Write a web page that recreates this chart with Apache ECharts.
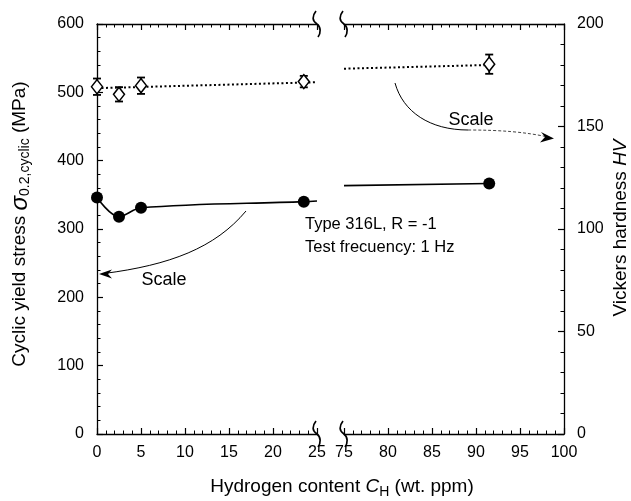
<!DOCTYPE html>
<html><head><meta charset="utf-8">
<script src="https://cdn.jsdelivr.net/npm/echarts@6/dist/echarts.min.js"></script>
<style>html,body{margin:0;padding:0;background:#fff}#c{width:631px;height:501px}</style>
</head><body><div id="c"></div>
<script>
const FONT = '"Liberation Sans", Arial, Helvetica, sans-serif';
// ---- data ----
const seg1Range = [0, 25];
const seg2Range = [75, 100];
const stressRange = [0, 600];
const hardRange = [0, 200];
// measured points
const hydrogen1 = [0, 2.5, 5, 23.5];
const stress1 = [346, 318, 331, 340];
const hardness1 = [169.4, 165.7, 169.9, 171.9];
const hardnessErr1 = [4, 3.5, 4, 2.8];
const hydrogen2 = [91.5];
const stress2 = [366.5];
const hardness2 = [180.4];
const hardnessErr2 = [4.7];
// trend curves drawn in the figure
const stressFitX1 = [0, 2.5, 5, 23.5, 25];
const stressFit1 = [346, 318, 331, 340, 341];
const stressFitX2 = [75, 91.5];
const stressFit2 = [363.5, 366.5];
const hardFitX1 = [0, 25];
const hardFit1 = [168.7, 171.6];
const hardFitX2 = [75, 91.5];
const hardFit2 = [178.2, 180.0];

const zip = (a, b) => a.map((v, i) => [v, b[i]]);
const errData = (x, y, e) => x.map((v, i) => [v, y[i] - e[i], y[i] + e[i]]);

const G1 = {left: 97, top: 24, width: 220, height: 410};
const G2 = {left: 344, top: 24, width: 220, height: 410};

const black = '#000';
function xAx(grid, range, pos, labels) {
  return {
    type: 'value', gridIndex: grid, position: pos, min: range[0], max: range[1], interval: 5,
    axisLine: {show: true, onZero: false, lineStyle: {color: black, width: 1.3}},
    axisTick: {show: true, inside: true, length: 6, lineStyle: {color: black, width: 1.2}},
    minorTick: {show: true, splitNumber: 5, length: 3.5, lineStyle: {color: black, width: 1}},
    axisLabel: {show: labels, color: black, fontSize: 16, fontFamily: FONT, margin: 11,
      showMinLabel: true, showMaxLabel: true},
    splitLine: {show: false}
  };
}
function yAx(grid, range, interval, pos, show) {
  return {
    type: 'value', gridIndex: grid, position: pos, min: range[0], max: range[1], interval: interval,
    show: show,
    axisLine: {show: true, onZero: false, lineStyle: {color: black, width: 1.3}},
    axisTick: {show: true, inside: true, length: 6, lineStyle: {color: black, width: 1.2}},
    minorTick: {show: true, splitNumber: 5, length: 3.5, lineStyle: {color: black, width: 1}},
    axisLabel: {show: true, color: black, fontSize: 16, fontFamily: FONT, margin: 13},
    splitLine: {show: false}
  };
}

function errRender(params, api) {
  const x = api.value(0), lo = api.value(1), hi = api.value(2);
  const p1 = api.coord([x, lo]), p2 = api.coord([x, hi]);
  const w = 4;
  const st = {stroke: black, lineWidth: 1.8};
  return {type: 'group', children: [
    {type: 'line', shape: {x1: p1[0], y1: p1[1], x2: p2[0], y2: p2[1]}, style: st},
    {type: 'line', shape: {x1: p1[0]-w, y1: p1[1], x2: p1[0]+w, y2: p1[1]}, style: st},
    {type: 'line', shape: {x1: p2[0]-w, y1: p2[1], x2: p2[0]+w, y2: p2[1]}, style: st}
  ]};
}

function breakMark(x, y) {
  const st = {fill: null, stroke: black, lineWidth: 1.7};
  return {type: 'group', x: x, y: y, z: 100, children: [
    {type: 'bezierCurve', shape: {x1: -1, y1: -13, cpx1: -5, cpy1: -8, cpx2: -5, cpy2: -3, x2: 0, y2: 0}, style: st},
    {type: 'bezierCurve', shape: {x1: 0, y1: 0, cpx1: 4, cpy1: 3, cpx2: 4, cpy2: 9, x2: 1, y2: 13}, style: st}
  ]};
}
function txt(x, y, text, size, rich, rot, align) {
  return {type: 'text', x: x, y: y, rotation: rot || 0, z: 100,
    style: {text: text, x: 0, y: 0, align: align || 'center', verticalAlign: 'middle',
      textAlign: align || 'center', textVerticalAlign: 'middle',
      font: size + 'px ' + FONT, fill: black, rich: rich}};
}
const rich = {
  n: {fontSize: 19, fontFamily: FONT, color: black, lineHeight: 24, verticalAlign: 'middle'},
  i: {fontSize: 19, fontFamily: FONT, fontStyle: 'italic', color: black, lineHeight: 24, verticalAlign: 'middle'},
  g: {fontSize: 24, fontFamily: FONT, fontStyle: 'italic', color: black, lineHeight: 24, verticalAlign: 'middle'},
  s: {fontSize: 14, fontFamily: FONT, color: black, lineHeight: 11, verticalAlign: 'bottom'}
};

const option = {
  animation: false,
  backgroundColor: '#fff',
  grid: [G1, G2],
  xAxis: [xAx(0, seg1Range, 'bottom', true), xAx(0, seg1Range, 'top', false),
          xAx(1, seg2Range, 'bottom', true), xAx(1, seg2Range, 'top', false)],
  yAxis: [yAx(0, stressRange, 100, 'left', true), yAx(0, hardRange, 50, 'right', false),
          yAx(1, stressRange, 100, 'left', false), yAx(1, hardRange, 50, 'right', true)],
  series: [
    {type: 'line', xAxisIndex: 0, yAxisIndex: 0, data: zip(stressFitX1, stressFit1), smooth: 0.35,
      showSymbol: false, lineStyle: {color: black, width: 1.6}, z: 2},
    {type: 'line', xAxisIndex: 2, yAxisIndex: 2, data: zip(stressFitX2, stressFit2),
      showSymbol: false, lineStyle: {color: black, width: 1.6}, z: 2},
    {type: 'line', xAxisIndex: 0, yAxisIndex: 1, data: zip(hardFitX1, hardFit1),
      showSymbol: false, lineStyle: {color: black, width: 2, type: [2, 2.5]}, z: 2},
    {type: 'line', xAxisIndex: 2, yAxisIndex: 3, data: zip(hardFitX2, hardFit2),
      showSymbol: false, lineStyle: {color: black, width: 2, type: [2, 2.5]}, z: 2},
    {type: 'custom', xAxisIndex: 0, yAxisIndex: 1, data: errData(hydrogen1, hardness1, hardnessErr1),
      renderItem: errRender, z: 3},
    {type: 'custom', xAxisIndex: 2, yAxisIndex: 3, data: errData(hydrogen2, hardness2, hardnessErr2),
      renderItem: errRender, z: 3},
    {type: 'scatter', xAxisIndex: 0, yAxisIndex: 0, data: zip(hydrogen1, stress1), symbol: 'circle',
      symbolSize: 12, itemStyle: {color: black, opacity: 1}, z: 5, clip: false},
    {type: 'scatter', xAxisIndex: 2, yAxisIndex: 2, data: zip(hydrogen2, stress2), symbol: 'circle',
      symbolSize: 12, itemStyle: {color: black, opacity: 1}, z: 5, clip: false},
    {type: 'scatter', xAxisIndex: 0, yAxisIndex: 1, data: zip(hydrogen1, hardness1), symbol: 'diamond',
      symbolSize: [11, 14], itemStyle: {color: '#fff', borderColor: black, borderWidth: 1.5, opacity: 1}, z: 5, clip: false},
    {type: 'scatter', xAxisIndex: 2, yAxisIndex: 3, data: zip(hydrogen2, hardness2), symbol: 'diamond',
      symbolSize: [11, 14], itemStyle: {color: '#fff', borderColor: black, borderWidth: 1.5, opacity: 1}, z: 5, clip: false}
  ],
  graphic: [
    breakMark(G1.left + G1.width, G1.top), breakMark(G2.left, G2.top),
    breakMark(G1.left + G1.width, G1.top + G1.height), breakMark(G2.left, G2.top + G2.height),
    // scale arrow 1 (to left axis)
    {type: 'bezierCurve', shape: {x1: 246, y1: 211, cpx1: 215, cpy1: 248, cpx2: 170, cpy2: 265, x2: 104, y2: 273.5},
      style: {stroke: black, lineWidth: 1, fill: null}},
    {type: 'polygon', shape: {points: [[99, 274], [112, 269.5], [108, 274], [112, 278.5]]}, style: {fill: black}},
    // scale arrow 2 (to right axis)
    {type: 'bezierCurve', shape: {x1: 395, y1: 83, cpx1: 403, cpy1: 112, cpx2: 430, cpy2: 130, x2: 468, y2: 130},
      style: {stroke: black, lineWidth: 1, fill: null}},
    {type: 'bezierCurve', shape: {x1: 468, y1: 130, cpx1: 500, cpy1: 130, cpx2: 525, cpy2: 132, x2: 548, y2: 137},
      style: {stroke: '#444', lineWidth: 1, fill: null, lineDash: [3, 2]}},
    {type: 'polygon', shape: {points: [[554, 138.5], [541, 132], [545, 137], [540, 142.5]]}, style: {fill: black}},
    txt(164, 280, 'Scale', 18),
    txt(471, 120, 'Scale', 18),
    txt(305, 224, 'Type 316L, R = -1', 16.5, null, 0, 'left'),
    txt(305, 247, 'Test frecuency: 1 Hz', 16.5, null, 0, 'left'),
    txt(20, 224, '{n|Cyclic yield stress }{g|σ}{s|0.2,cyclic}{n| (MPa)}', 19, rich, Math.PI / 2),
    txt(621, 228, '{n|Vickers hardness }{i|HV}', 19, rich, Math.PI / 2),
    txt(342, 487, '{n|Hydrogen content }{i|C}{s|H}{n| (wt. ppm)}', 19, rich, 0)
  ]
};
const chart = echarts.init(document.getElementById('c'), null, {renderer: 'canvas'});
chart.setOption(option);
</script></body></html>
